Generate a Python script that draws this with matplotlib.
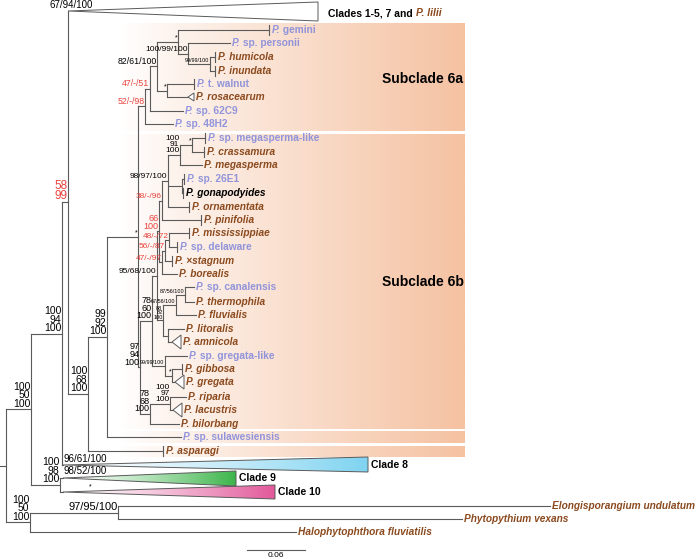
import numpy as np
import matplotlib.pyplot as plt
from matplotlib.patches import Polygon
from matplotlib.colors import to_rgb

plt.rcParams['font.family'] = ['Liberation Sans', 'DejaVu Sans']

BROWN = '#8b4a1e'
LAV = '#9194db'
RED = '#e8423e'
GREY = '#5a5a5a'
PEACH = '#f5c2a2'

# tips: branch end (tree units) and row position
tip_ids = ['gemini', 'personii', 'humicola', 'inundata', 'walnut', 'rosacearum', 'sp62C9', 'sp48H2',
           'megalike', 'crassamura', 'megasperma', 'sp26E1', 'gonapodyides', 'ornamentata', 'pinifolia',
           'mississippiae', 'delaware', 'stagnum', 'borealis', 'canalensis', 'thermophila', 'fluvialis',
           'litoralis', 'amnicola', 'gregatalike', 'gibbosa', 'gregata', 'riparia', 'lacustris', 'bilorbang',
           'sulawesiensis', 'asparagi', 'elongisporangium', 'phytopythium', 'halophytophthora']
tip_labels = ['P. gemini', 'P. sp. personii', 'P. humicola', 'P. inundata', 'P. t. walnut', 'P. rosacearum',
              'P. sp. 62C9', 'P. sp. 48H2', 'P. sp. megasperma-like', 'P. crassamura', 'P. megasperma',
              'P. sp. 26E1', 'P. gonapodyides', 'P. ornamentata', 'P. pinifolia', 'P. mississippiae',
              'P. sp. delaware', 'P. ×stagnum', 'P. borealis', 'P. sp. canalensis', 'P. thermophila',
              'P. fluvialis', 'P. litoralis', 'P. amnicola', 'P. sp. gregata-like', 'P. gibbosa', 'P. gregata',
              'P. riparia', 'P. lacustris', 'P. bilorbang', 'P. sp. sulawesiensis', 'P. asparagi',
              'Elongisporangium undulatum', 'Phytopythium vexans', 'Halophytophthora fluviatilis']
tip_y = [30, 43, 57, 71, 84, 97, 111, 124, 138, 152, 165, 179, 193, 207, 220, 233, 247, 261, 274,
         287, 302, 315, 329, 342, 356, 369, 382, 397, 410, 424, 437, 451, 506, 519, 532]
tip_x = [269, 230, 215, 215, 194, 188, 183, 173, 205, 204, 202, 184, 183, 189, 201, 189, 177, 172, 177,
         194, 194, 196, 184, 172, 187, 182, 175, 186, 173, 179, 181, 163, 550, 462, 296]
tip_kind = ['un', 'un', 'sp', 'sp', 'un', 'sp', 'un', 'un', 'un', 'sp', 'sp', 'un', 'bk', 'sp', 'sp',
            'sp', 'un', 'sp', 'sp', 'un', 'sp', 'sp', 'sp', 'sp', 'un', 'sp', 'sp', 'sp', 'sp', 'sp',
            'un', 'sp', 'sp', 'sp', 'sp']
tip_mark = ['|', '', '|', '|', '|', 'v', '', '', '|', '|', '', '|', '|', '|', '|', '|', '|', '|', '',
            '', '', '', '', '>', '', '|', '>', '', '>', '', '', '|', '', '', '']

# collapsed clades
clade_ids = ['c1_5', 'c8', 'c9', 'c10']
clade_y = [11, 465, 478, 492]
clade_apex = [68, 63, 63, 63]
clade_end = [318, 368, 236, 275]
clade_top = [2, 457, 471, 485]
clade_bot = [21, 472, 486, 499]
clade_fill = ['#ffffff', '#7fd3f1', '#3db54b', '#e2589a']
clade_support = ['67/94/100', '96/61/100', '98/52/100', '*']
clade_support_dx = [-18, 1, 1, 26]

# internal nodes (children listed before parents)
node_ids = ['n210', 'n188', 'n178', 'n167', 'n157', 'n150', 'n145',
            'nMG', 'nM', 'nG', 'n168', 'n162', 'nN1', 'nN2', 'nN3', 'nN4',
            'nC1', 'nC2', 'nC3', 'nC4', 'nQ', 'nGr1', 'nGr2', 'nP78', 'nR1', 'nR2', 'n97',
            'n138', 'n107', 'n88', 'n68', 'n62', 'n60', 'n31', 'n118', 'n30', 'root']
node_x = [210, 188, 178, 167, 157, 150, 145,
          192, 180, 182, 168, 162, 169, 165, 162, 159,
          185, 176, 168, 163, 157, 172, 165, 152, 170, 150, 140,
          138, 107, 88, 68, 62, 60, 31, 118, 30, 6]
node_kids = [['humicola', 'inundata'], ['personii', 'n210'], ['gemini', 'n188'], ['walnut', 'rosacearum'],
             ['n178', 'n167'], ['n157', 'sp62C9'], ['n150', 'sp48H2'],
             ['megalike', 'crassamura'], ['nMG', 'megasperma'], ['sp26E1', 'gonapodyides'],
             ['nM', 'nG', 'ornamentata'], ['n168', 'pinifolia'], ['mississippiae', 'delaware'],
             ['nN1', 'stagnum'], ['nN2', 'borealis'], ['n162', 'nN3'],
             ['canalensis', 'thermophila'], ['nC1', 'fluvialis'], ['litoralis', 'amnicola'], ['nC2', 'nC3'],
             ['nN4', 'nC4'], ['gibbosa', 'gregata'], ['gregatalike', 'nGr1'], ['nQ', 'nGr2'],
             ['riparia', 'lacustris'], ['nR1', 'bilorbang'], ['nP78', 'nR2'],
             ['n145', 'n97'], ['n138', 'sulawesiensis'], ['n107', 'asparagi'], ['c1_5', 'n88'],
             ['n68', 'c8'], ['c9', 'c10'], ['n62', 'n60'], ['elongisporangium', 'phytopythium'],
             ['n118', 'halophytophthora'], ['n31', 'n30']]
node_support = ['99/99/100', '100/99/100', '*', '*', '82/61/100', '47/-/51', '52/-/98',
                '*', '100\n91\n100', '', '98/97/100', '38/-/96', '48/-/72', '56/-/87', '47/-/97', '66\n100',
                '87/56/100', '67/56/100', '', '88\n82\n100', '95/68/100', '*', '99/99/100', '78\n60\n100',
                '100\n97\n100', '78\n68\n100', '97\n94\n100',
                '*', '99\n92\n100', '100\n68\n100', '58\n99', '100\n94\n100', '100\n98\n100', '100\n50\n100',
                '97/95/100', '100\n50\n100', '']
node_fs = [4, 6, 6, 6, 6.3, 6.3, 6.3,
           6, 6, 6, 6, 6, 6, 6, 6, 6.5,
           4, 4, 4, 4, 6, 6, 4, 6.5, 6, 6.5, 6.5,
           6, 7.5, 7.5, 8.5, 7.5, 7.5, 7.5, 8, 7.5, 6]
red_nodes = ['n150', 'n145', 'n162', 'nN1', 'nN2', 'nN3', 'nN4', 'n68']

# shaded subclade bands
band_top = [23, 134, 431, 446]
band_bot = [131, 429, 443, 457]
band_left = 120
band_right = 465

fig = plt.figure(figsize=(7, 5.59), dpi=100)
ax = fig.add_axes([0, 0, 1, 1])


def ramp(c, n=300, gamma=1.0):
    t = np.linspace(0, 1, n) ** gamma
    w = np.array([1.0, 1.0, 1.0])
    c = np.array(to_rgb(c))
    return (w[None, :] * (1 - t[:, None]) + c[None, :] * t[:, None])[None, :, :]


for t0, b0 in zip(band_top, band_bot):
    ax.imshow(ramp(PEACH, gamma=0.9), extent=(band_left, band_right, b0, t0),
              aspect='auto', zorder=0, interpolation='bilinear')

ax.text(382, 79, 'Subclade 6a', fontsize=10, fontweight='bold', va='center', zorder=5)
ax.text(382, 282, 'Subclade 6b', fontsize=10, fontweight='bold', va='center', zorder=5)

pos = {}
for i, t in enumerate(tip_ids):
    pos[t] = (tip_x[i], tip_y[i])
for i, c in enumerate(clade_ids):
    pos[c] = (clade_apex[i], clade_y[i])
for i, n in enumerate(node_ids):
    ys = [pos[k][1] for k in node_kids[i]]
    pos[n] = (node_x[i], (ys[0] + ys[-1]) / 2)

lw = 0.8
for i, n in enumerate(node_ids):
    x, y = pos[n]
    ys = [pos[k][1] for k in node_kids[i]]
    ax.plot([x, x], [min(ys), max(ys)], color=GREY, lw=lw, zorder=2)
    for k in node_kids[i]:
        ax.plot([x, pos[k][0]], [pos[k][1], pos[k][1]], color=GREY, lw=lw, zorder=2)
    s = node_support[i]
    if s:
        col = RED if n in red_nodes else 'black'
        fs = 5 if s == '*' else node_fs[i]
        ax.text(x - 0.5, y - 0.5, s, fontsize=fs, color=col, ha='right', va='bottom',
                multialignment='right', linespacing=0.82, zorder=4)

rx, ry = pos['root']
ax.plot([0, rx], [ry, ry], color=GREY, lw=lw)

# collapsed clades as gradient triangles
for i in range(len(clade_ids)):
    a, y, e = clade_apex[i], clade_y[i], clade_end[i]
    tri = Polygon([[a, y], [e, clade_top[i]], [e, clade_bot[i]]], closed=True,
                  fc='none', ec=GREY, lw=0.7, zorder=3)
    ax.add_patch(tri)
    im = ax.imshow(ramp(clade_fill[i], gamma=1.3), extent=(a, e, clade_bot[i], clade_top[i]),
                   aspect='auto', zorder=1, interpolation='bilinear')
    im.set_clip_path(tri)
    ax.text(a + clade_support_dx[i], y - 1.5, clade_support[i], fontsize=7 if i < 3 else 5,
            ha='left', va='bottom', zorder=4)

t = ax.text(clade_end[0] + 10, clade_y[0] + 2, 'Clades 1-5, 7 and ', fontsize=7.5,
            fontweight='bold', va='center')
ax.annotate('P. lilii', xy=(1, 0), xycoords=t, va='bottom', fontsize=7.5, fontweight='bold',
            style='italic', color=BROWN)
clade_names = ['Clade 8', 'Clade 9', 'Clade 10']
for i, nm in enumerate(clade_names):
    ax.text(clade_end[i + 1] + 3, clade_y[i + 1], nm, fontsize=7.5, fontweight='bold', va='center')

# tips
FS = 7.3
off = {'|': 3, '': 2, '>': 11, 'v': 8}
for i, lab in enumerate(tip_labels):
    x, y = tip_x[i], tip_y[i]
    m = tip_mark[i]
    if m == '|':
        ax.plot([x, x], [y - 5, y + 5], color=GREY, lw=lw, zorder=2)
    elif m in ('>', 'v'):
        w = 9 if m == '>' else 6
        h = 7 if m == '>' else 4
        ax.add_patch(Polygon([[x, y], [x + w, y - h], [x + w, y + h]], closed=True,
                             fc='white', ec=GREY, lw=0.7, zorder=3))
    lx = x + off[m]
    kind = tip_kind[i]
    if kind == 'un':
        t = ax.text(lx, y, 'P.', fontsize=FS, fontweight='bold', style='italic', color=LAV,
                    va='center', zorder=5)
        ax.annotate(lab[2:], xy=(1, 0), xycoords=t, va='bottom', fontsize=FS,
                    fontweight='bold', color=LAV, zorder=5)
    else:
        col = 'black' if kind == 'bk' else BROWN
        ax.text(lx, y, lab, fontsize=FS, fontweight='bold', style='italic', color=col,
                va='center', zorder=5)

# scale bar
ax.plot([247, 305], [550, 550], color=GREY, lw=lw)
ax.text(276, 552, '0.06', fontsize=6, ha='center', va='top')

ax.set_xlim(0, 700)
ax.set_ylim(559, 0)
ax.axis('off')
fig.savefig('out.png', dpi=100)
